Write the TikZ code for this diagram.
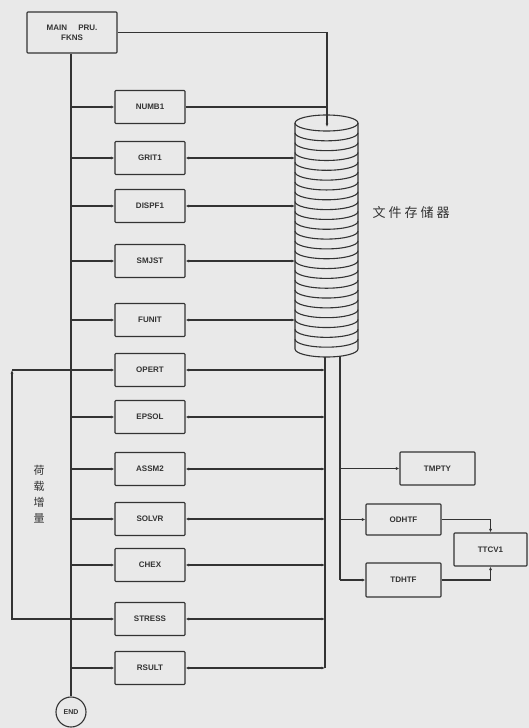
\documentclass[tikz,border=0pt]{standalone}
\usepackage{fontspec}
\setsansfont{Liberation Sans}
\newfontfamily\cjk{Noto Sans CJK SC}
\usetikzlibrary{arrows.meta}
\definecolor{ink}{HTML}{333333}
\definecolor{paper}{HTML}{E9E9E9}
\tikzset{
  box/.style={draw=ink, line width=1.1pt, rounded corners=0.8pt, minimum width=70pt, minimum height=33pt,
    inner sep=1pt, text=ink, font=\sffamily\bfseries\fontsize{8}{10}\selectfont, align=center},
  ln/.style={draw=ink, line width=1.1pt},
  arr/.style={ln, -{Latex[length=3.5pt,width=3pt]}},
  both/.style={ln, {Latex[length=3.5pt,width=3pt]}-{Latex[length=3.5pt,width=3pt]}}
}
\begin{document}
\begin{tikzpicture}[x=1pt,y=-1pt]
\fill[paper] (0,0) rectangle (529,728);
\useasboundingbox (0,0) rectangle (529,728);

% helper coordinates
\coordinate (busL) at (71,0);
\coordinate (busA) at (325,0);
\coordinate (busB) at (340,0);
\coordinate (cylL) at (295,0);
\coordinate (loopx) at (12,0);
\coordinate (cyltop) at (327,127);
\coordinate (busAtop) at (325,357);
\coordinate (busBtop) at (340,356);

% nodes
\node[box, minimum width=90pt, minimum height=41pt] (MAIN) at (72,32.5) {MAIN\hspace{1.4em}PRU.\\FKNS};
\node[box] (NUMB1) at (150,107) {NUMB1};
\node[box] (GRIT1) at (150,158) {GRIT1};
\node[box] (DISPF1) at (150,206) {DISPF1};
\node[box] (SMJST) at (150,261) {SMJST};
\node[box] (FUNIT) at (150,320) {FUNIT};
\node[box] (OPERT) at (150,370) {OPERT};
\node[box] (EPSOL) at (150,417) {EPSOL};
\node[box] (ASSM2) at (150,469) {ASSM2};
\node[box] (SOLVR) at (150,519) {SOLVR};
\node[box] (CHEX) at (150,565) {CHEX};
\node[box] (STRESS) at (150,619) {STRESS};
\node[box] (RSULT) at (150,668) {RSULT};
\node[draw=ink, line width=1.1pt, circle, minimum size=30pt, inner sep=0pt, text=ink,
      font=\sffamily\bfseries\fontsize{7}{8}\selectfont] (END) at (71,712) {END};

\node[box, minimum width=75pt] (TMPTY) at (437.5,468.5) {TMPTY};
\node[box, minimum width=75pt, minimum height=31pt] (ODHTF) at (403.5,519.5) {ODHTF};
\node[box, minimum width=75pt, minimum height=34pt] (TDHTF) at (403.5,580) {TDHTF};
\node[box, minimum width=73pt] (TTCV1) at (490.5,549.5) {TTCV1};

% file storage cylinder
\draw[ln] (326.5,123) ellipse[x radius=31.5, y radius=8];
\draw[ln] (295,123) -- (295,349) arc[start angle=180, end angle=0, x radius=31.5, y radius=8] -- (358,123);
\foreach \k in {1,...,22}
  \draw[ln] (295,{123+9.826*\k}) arc[start angle=180, end angle=0, x radius=31.5, y radius=8];
\node[text=ink, font=\cjk\fontsize{13}{14}\selectfont, anchor=west] (FS) at (369,213)
  {文\kern3pt件\kern3pt存\kern3pt储\kern3pt器};

% main bus
\draw[ln] (MAIN.south -| busL) -- (END.north);
\foreach \b in {NUMB1,GRIT1,DISPF1,SMJST,FUNIT,OPERT,EPSOL,ASSM2,SOLVR,CHEX,STRESS,RSULT}
  \draw[arr] (busL |- \b.west) -- (\b.west);

% main program to file storage
\draw[arr] (MAIN.east) -| (cyltop);
\draw[ln] (NUMB1.east) -- (cyltop |- NUMB1.east);

% upper boxes to storage
\foreach \b in {GRIT1,DISPF1,SMJST,FUNIT}
  \draw[both] (\b.east) -- (cylL |- \b.east);

% lower bus A
\draw[ln] (busAtop) -- (busA |- RSULT.east);
\foreach \b in {OPERT,EPSOL,ASSM2,SOLVR,CHEX,STRESS,RSULT}
  \draw[both] (\b.east) -- (busA |- \b.east);

% bus B
\draw[ln] (busBtop) -- (busB |- TDHTF.west);
\draw[arr] (busB |- TMPTY.west) -- (TMPTY.west);
\draw[arr] (busB |- ODHTF.west) -- (ODHTF.west);
\draw[arr] (busB |- TDHTF.west) -- (TDHTF.west);
\draw[arr] (ODHTF.east) -| (TTCV1.north);
\draw[arr] (TDHTF.east) -| (TTCV1.south);

% load increment loop
\draw[arr] (busL |- STRESS.west) -- (loopx |- STRESS.west) -- (loopx |- OPERT.west);
\draw[ln] (loopx |- OPERT.west) -- (busL |- OPERT.west);
\node[text=ink, font=\cjk\fontsize{11}{16}\selectfont, align=center, inner sep=0pt] (LOAD) at (39,494)
  {荷\\载\\增\\量};
\end{tikzpicture}
\end{document}
